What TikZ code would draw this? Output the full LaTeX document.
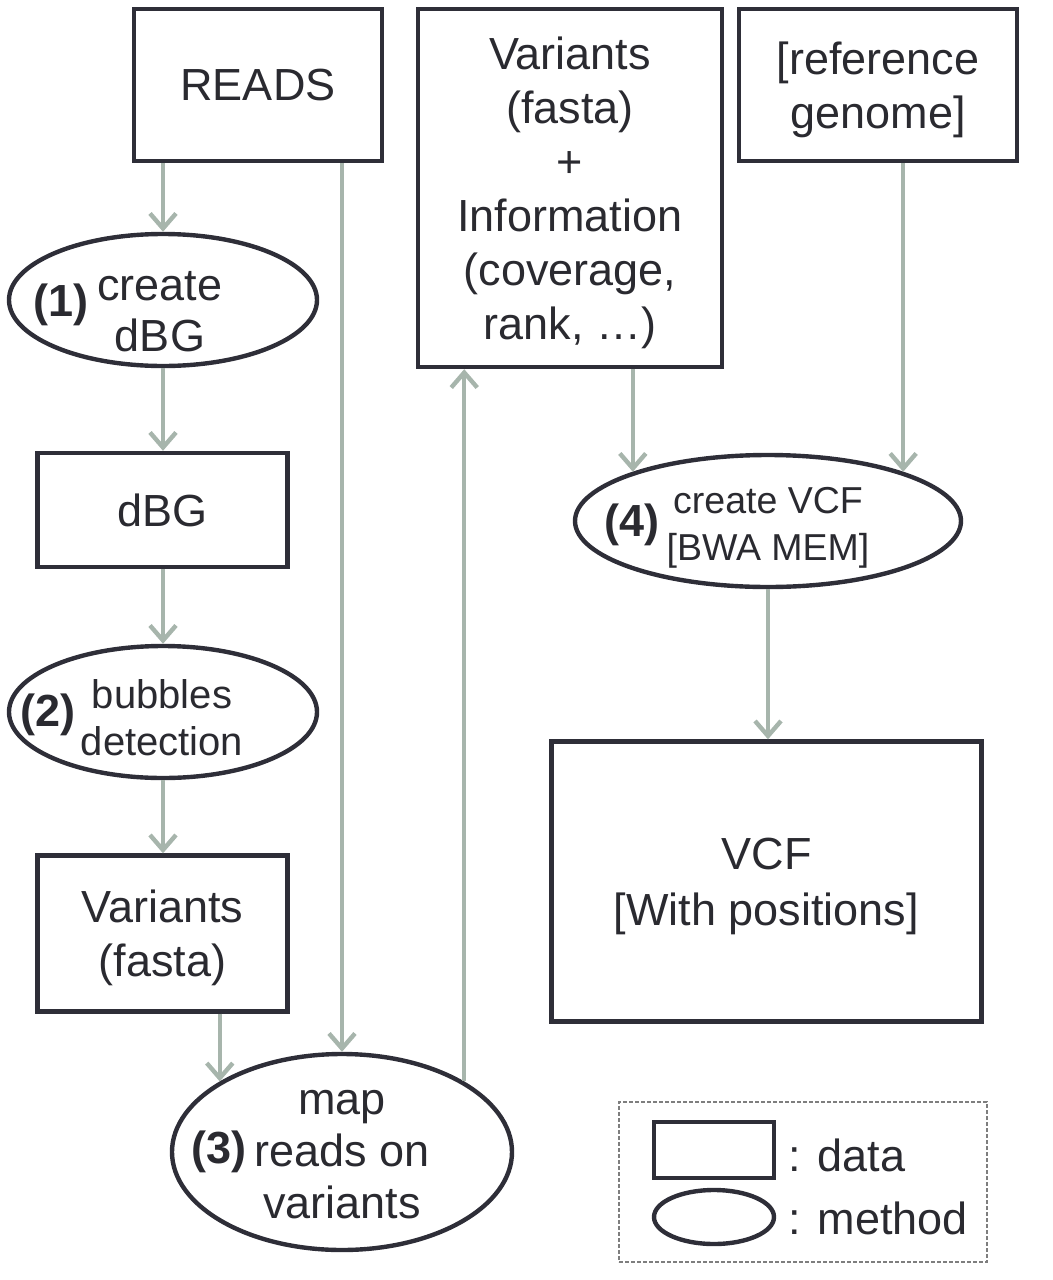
\documentclass[tikz,border=0pt]{standalone}
\usepackage{fontspec}
\setmainfont{Liberation Sans}
\usetikzlibrary{positioning,shapes.geometric,arrows.meta}

\definecolor{boxline}{HTML}{2E2E38}
\definecolor{flowgreen}{HTML}{A7B5AC}
\definecolor{labeltext}{HTML}{2A2A30}
\definecolor{legendline}{HTML}{7E7E7E}

\tikzset{
  databox/.style={draw=boxline, line width=2.2pt, rectangle, inner sep=0pt,
    align=center, text=labeltext, text depth=0pt, font=\fontsize{22.5}{27}\selectfont},
  methodell/.style={draw=boxline, line width=2.2pt, ellipse, inner sep=0pt},
  flow/.style={draw=flowgreen, line width=2.2pt,
    -{Straight Barb[length=7.5pt,width=13pt]}},
  bigtxt/.style={font=\fontsize{22.5}{25.5}\selectfont, text=labeltext,
    align=center, inner sep=0pt},
  steplabel/.style={font=\fontsize{22.5}{27}\selectfont\bfseries,
    text=labeltext, inner sep=0pt},
}

\begin{document}
\begin{tikzpicture}[x=0.5pt, y=-0.5pt]
    \useasboundingbox (0,0) rectangle (1053,1280);

    % Data boxes on top
    \node[databox, minimum width=124pt, minimum height=76pt] (reads) at (258,85) {READS};
    \node[databox, minimum width=152pt, minimum height=179pt] (info) at (570,188)
      {Variants\\(fasta)\\+\\Information\\(coverage,\\rank, \ldots)};
    \node[databox, minimum width=139pt, minimum height=76pt] (ref) at (878,85)
      {[reference\\genome]};

    % Left column
    \node[methodell, minimum width=154pt, minimum height=66pt] (e1) at (163,300) {};
    \node[steplabel] (n1) at (61,305) {(1)};
    \node[bigtxt] (t1) at (160,312) {create\\dBG};

    \node[databox, minimum width=125pt, minimum height=57pt] (dbg) at (162.5,510) {dBG};

    \node[methodell, minimum width=154pt, minimum height=66pt] (e2) at (163,712) {};
    \node[steplabel] (n2) at (48,715) {(2)};
    \node[bigtxt, font=\fontsize{20}{23.5}\selectfont] (t2) at (162,718) {bubbles\\detection};

    \node[databox, minimum width=125pt, minimum height=78pt] (var) at (162.5,933.5)
      {Variants\\(fasta)};

    % Mapping step
    \node[methodell, minimum width=170pt, minimum height=98pt] (e3) at (342,1152) {};
    \node[steplabel] (n3) at (219,1152) {(3)};
    \node[bigtxt, font=\fontsize{22.5}{26}\selectfont] (t3) at (342,1155) {map\\reads on\\variants};

    % VCF step and result
    \node[methodell, minimum width=193pt, minimum height=66pt] (e4) at (768,521) {};
    \node[steplabel] (n4) at (632,525) {(4)};
    \node[bigtxt, font=\fontsize{18.75}{23.5}\selectfont] (t4) at (768,528) {create VCF\\[0pt][BWA MEM]};

    \node[databox, minimum width=215pt, minimum height=140pt] (vcf) at (766.5,881.5)
      {VCF\\[1pt][With positions]};

    % Arrows
    \draw[flow] (e1.north |- reads.south) -- (e1.north);
    \draw[flow] (e1.south) -- (e1.south |- dbg.north);
    \draw[flow] (e2.north |- dbg.south) -- (e2.north);
    \draw[flow] (e2.south) -- (e2.south |- var.north);
    \draw[flow] (e3.150 |- var.south) -- (e3.150);
    \draw[flow] (e3.north |- reads.south) -- (e3.north);
    \draw[flow] (e3.30) -- (e3.30 |- info.south);
    \draw[flow] (e4.160 |- info.south) -- (e4.160);
    \draw[flow] (e4.20 |- ref.south) -- (e4.20);
    \draw[flow] (e4.south) -- (e4.south |- vcf.north);

    % Legend
    \node[draw=legendline, line width=1.2pt, dash pattern=on 2pt off 1pt,
      minimum width=184pt, minimum height=80pt, inner sep=0pt] (legend) at (803,1182) {};
    \node[databox, minimum width=60pt, minimum height=28pt] (legbox) at (714,1150) {};
    \node[methodell, minimum width=60pt, minimum height=27pt] (legell) at (714,1217) {};
    \node[bigtxt, anchor=west] (legdata) at (788,1155) {: data};
    \node[bigtxt, anchor=west] (legmethod) at (788,1218) {: method};
\end{tikzpicture}
\end{document}
